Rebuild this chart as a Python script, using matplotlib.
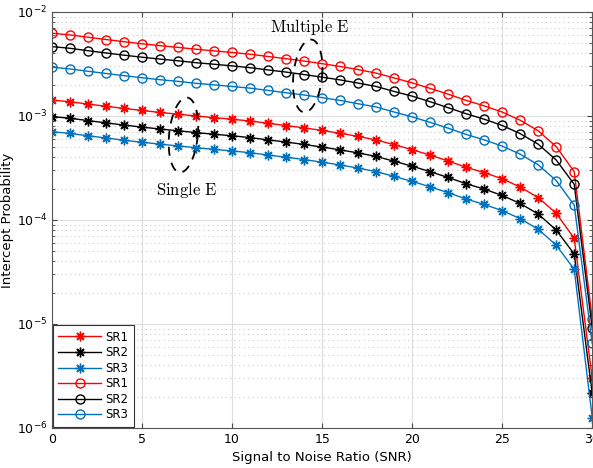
import numpy as np
import matplotlib
matplotlib.use('Agg')
import matplotlib.pyplot as plt

# datos
snr = np.arange(0, 31)

sr1_multi = [6.24e-3, 6.01e-3, 5.71e-3, 5.43e-3, 5.17e-3, 4.94e-3, 4.74e-3, 4.56e-3,
             4.38e-3, 4.22e-3, 4.08e-3, 3.92e-3, 3.73e-3, 3.55e-3, 3.37e-3, 3.18e-3,
             2.99e-3, 2.79e-3, 2.58e-3, 2.32e-3, 2.08e-3, 1.84e-3, 1.62e-3, 1.41e-3,
             1.25e-3, 1.09e-3, 9.1e-4, 7.2e-4, 5.07e-4, 2.91e-4, 1.12e-5]
sr2_multi = [4.64e-3, 4.47e-3, 4.24e-3, 4.03e-3, 3.84e-3, 3.67e-3, 3.52e-3, 3.39e-3,
             3.25e-3, 3.14e-3, 3.03e-3, 2.91e-3, 2.77e-3, 2.64e-3, 2.50e-3, 2.36e-3,
             2.22e-3, 2.07e-3, 1.92e-3, 1.72e-3, 1.55e-3, 1.37e-3, 1.20e-3, 1.05e-3,
             9.3e-4, 8.1e-4, 6.76e-4, 5.35e-4, 3.77e-4, 2.2e-4, 9.1e-6]
sr3_multi = [2.94e-3, 2.83e-3, 2.69e-3, 2.56e-3, 2.44e-3, 2.33e-3, 2.23e-3, 2.15e-3,
             2.06e-3, 1.99e-3, 1.92e-3, 1.85e-3, 1.76e-3, 1.67e-3, 1.59e-3, 1.50e-3,
             1.41e-3, 1.31e-3, 1.22e-3, 1.09e-3, 9.8e-4, 8.67e-4, 7.63e-4, 6.64e-4,
             5.89e-4, 5.13e-4, 4.29e-4, 3.39e-4, 2.39e-4, 1.39e-4, 6.5e-6]
sr1_single = [1.42e-3, 1.37e-3, 1.30e-3, 1.24e-3, 1.18e-3, 1.13e-3, 1.08e-3, 1.04e-3,
              1.00e-3, 9.62e-4, 9.30e-4, 8.94e-4, 8.50e-4, 8.09e-4, 7.68e-4, 7.25e-4,
              6.82e-4, 6.36e-4, 5.88e-4, 5.29e-4, 4.74e-4, 4.20e-4, 3.69e-4, 3.21e-4,
              2.85e-4, 2.49e-4, 2.07e-4, 1.64e-4, 1.16e-4, 6.65e-5, 3.0e-6]
sr2_single = [9.86e-4, 9.50e-4, 9.02e-4, 8.58e-4, 8.17e-4, 7.81e-4, 7.49e-4, 7.20e-4,
              6.92e-4, 6.67e-4, 6.45e-4, 6.19e-4, 5.89e-4, 5.61e-4, 5.32e-4, 5.02e-4,
              4.72e-4, 4.41e-4, 4.08e-4, 3.67e-4, 3.29e-4, 2.91e-4, 2.56e-4, 2.23e-4,
              1.98e-4, 1.72e-4, 1.44e-4, 1.14e-4, 8.0e-5, 4.7e-5, 2.15e-6]
sr3_single = [7.05e-4, 6.79e-4, 6.45e-4, 6.14e-4, 5.84e-4, 5.58e-4, 5.36e-4, 5.15e-4,
              4.95e-4, 4.77e-4, 4.61e-4, 4.43e-4, 4.21e-4, 4.01e-4, 3.81e-4, 3.59e-4,
              3.38e-4, 3.15e-4, 2.92e-4, 2.62e-4, 2.35e-4, 2.08e-4, 1.83e-4, 1.59e-4,
              1.41e-4, 1.23e-4, 1.03e-4, 8.14e-5, 5.73e-5, 3.35e-5, 1.26e-6]

rojo = '#FF0000'
negro = '#000000'
azul = '#0072BD'
asterisco = (8, 2, 0)

fig = plt.figure(figsize=(5.93, 4.68), dpi=100)
ax = fig.add_axes([0.0877, 0.0855, 0.911, 0.889])

ax.semilogy(snr, sr1_single, color=rojo, marker=asterisco, ms=7, lw=1, mew=1, label='SR1')
ax.semilogy(snr, sr2_single, color=negro, marker=asterisco, ms=7, lw=1, mew=1, label='SR2')
ax.semilogy(snr, sr3_single, color=azul, marker=asterisco, ms=7, lw=1, mew=1, label='SR3')
ax.semilogy(snr, sr1_multi, color=rojo, marker='o', ms=6.5, lw=1, mfc='none', label='SR1')
ax.semilogy(snr, sr2_multi, color=negro, marker='o', ms=6.5, lw=1, mfc='none', label='SR2')
ax.semilogy(snr, sr3_multi, color=azul, marker='o', ms=6.5, lw=1, mfc='none', label='SR3')

ax.set_xlim(0, 30)
ax.set_ylim(1e-6, 1e-2)
ax.set_xticks([0, 5, 10, 15, 20, 25, 30])
ax.grid(True, which='major', color='#DDDDDD', lw=0.8, ls='-')
ax.grid(True, which='minor', axis='y', color='#CCCCCC', lw=0.8, ls=(0, (1, 3)))
ax.set_axisbelow(True)
ax.tick_params(which='both', direction='in', top=True, right=True, labelsize=9,
               color='#444444')
for lado in ax.spines.values():
    lado.set_color('#555555')
    lado.set_linewidth(0.8)

ax.set_xlabel('Signal to Noise Ratio (SNR)', fontsize=9.5)
ax.set_ylabel('Intercept Probability', fontsize=9.5)
ax.yaxis.set_label_coords(-0.07, 0.5)

# elipses discontinuas (en escala log)
t = np.linspace(0, 2 * np.pi, 200)
for cx, cy, a, b in [(14.2, -2.615, 0.8, 0.35), (7.3, -3.183, 0.8, 0.36)]:
    inc = 0.5
    xe = cx + a * np.cos(t) + inc * b * np.sin(t)
    ye = 10 ** (cy + b * np.sin(t))
    ax.plot(xe, ye, color='black', lw=1.3, ls=(0, (5, 4)))

ax.text(14.3, 10 ** -2.144, r'$\mathrm{Multiple\ E}$', math_fontfamily='cm',
        fontsize=12, ha='center', va='center')
ax.text(7.5, 10 ** -3.71, r'$\mathrm{Single\ E}$', math_fontfamily='cm',
        fontsize=12, ha='center', va='center')

leg = ax.legend(loc='lower left', fontsize=8.5, fancybox=False, framealpha=1,
                edgecolor='#333333', borderaxespad=0.1, handlelength=3.6,
                labelspacing=0.22, borderpad=0.45, handletextpad=0.4)
leg.get_frame().set_linewidth(0.8)

fig.savefig('out.png', dpi=100)
